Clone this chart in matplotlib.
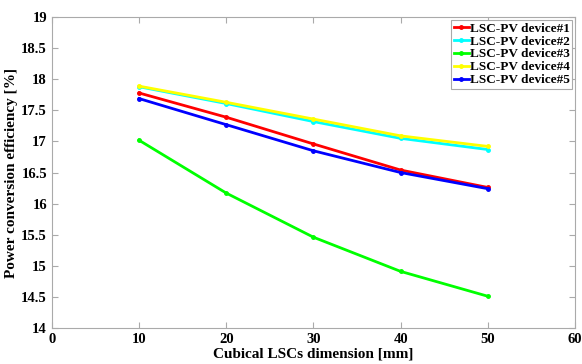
import matplotlib
matplotlib.use('Agg')
import matplotlib.pyplot as plt

dims = [10, 20, 30, 40, 50]
dev1 = [17.78, 17.39, 16.96, 16.54, 16.26]
dev2 = [17.88, 17.61, 17.32, 17.05, 16.87]
dev3 = [17.02, 16.17, 15.46, 14.91, 14.51]
dev4 = [17.89, 17.63, 17.36, 17.09, 16.92]
dev5 = [17.69, 17.27, 16.85, 16.50, 16.24]
labels = ['LSC-PV device#1', 'LSC-PV device#2', 'LSC-PV device#3',
          'LSC-PV device#4', 'LSC-PV device#5']
colors = ['#ff0000', '#00ffff', '#00ff00', '#ffff00', '#0000ff']

plt.rcParams['font.family'] = 'Liberation Serif'
plt.rcParams['font.weight'] = 'bold'

fig = plt.figure(figsize=(5.82, 3.64), dpi=100)
ax = fig.add_axes([0.089, 0.099, 0.899, 0.854])
for y, lab, c in zip([dev1, dev2, dev3, dev4, dev5], labels, colors):
    ax.plot(dims, y, color=c, lw=2, marker='o', ms=2.5, label=lab)

ax.set_xlim(0, 60)
ax.set_ylim(14, 19)
ax.set_xticks(range(0, 61, 10))
ax.set_yticks([14, 14.5, 15, 15.5, 16, 16.5, 17, 17.5, 18, 18.5, 19])
ax.set_yticklabels(['14', '14.5', '15', '15.5', '16', '16.5', '17', '17.5', '18', '18.5', '19'])
ax.tick_params(direction='in', top=True, right=True, labelsize=10.5, color='#aaaaaa', length=4)
for s in ax.spines.values():
    s.set_color('#aaaaaa')
ax.set_xlabel('Cubical LSCs dimension [mm]', fontsize=11, fontweight='bold', labelpad=1)
ax.set_ylabel('Power conversion efficiency [%]', fontsize=11, fontweight='bold', labelpad=2)
leg = ax.legend(loc='upper right', fontsize=9.5, handlelength=1.1, handletextpad=0.1,
                borderpad=0.2, labelspacing=0.05, fancybox=False, framealpha=1,
                borderaxespad=0.2)
leg.get_frame().set_edgecolor('#aaaaaa')
leg.get_frame().set_linewidth(0.8)

plt.savefig('out.png', dpi=100)
